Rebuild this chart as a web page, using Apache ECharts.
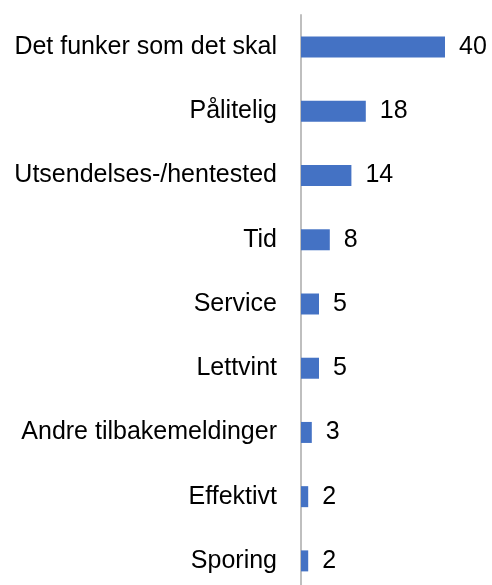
<!DOCTYPE html>
<html><head><meta charset="utf-8">
<script src="https://cdn.jsdelivr.net/npm/echarts@6/dist/echarts.min.js"></script>
<style>html,body{margin:0;padding:0;background:#fff}#c{width:492px;height:585px}</style>
</head><body><div id="c"></div>
<script>
const categories = ["Det funker som det skal","Pålitelig","Utsendelses-/hentested","Tid","Service","Lettvint","Andre tilbakemeldinger","Effektivt","Sporing"];
const values = [40,18,14,8,5,5,3,2,2];
const chart = echarts.init(document.getElementById('c'));
chart.setOption({
  animation:false,
  grid:{left:301,right:47,top:15,height:578,outerBoundsMode:'none',containLabel:false},
  xAxis:{type:'value',min:0,max:40,show:false},
  yAxis:{type:'category',inverse:true,data:categories,
    axisLine:{show:true,lineStyle:{color:'#bfbfbf',width:2}},
    axisTick:{show:false},
    axisLabel:{margin:24,color:'#000',fontSize:25,fontFamily:'Liberation Sans, Arial, sans-serif'}},
  series:[{type:'bar',data:values,barWidth:21,itemStyle:{color:'#4472C4'},
    label:{show:true,position:'right',distance:14,color:'#000',fontSize:25,fontFamily:'Liberation Sans, Arial, sans-serif'}}]
});
</script></body></html>
